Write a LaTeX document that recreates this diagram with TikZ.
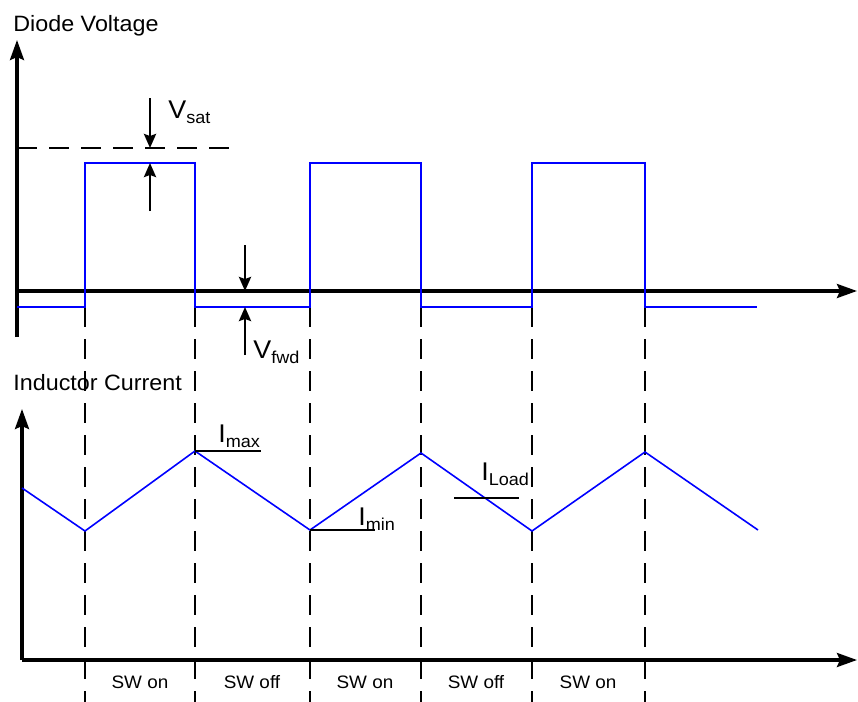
\documentclass[tikz,border=0pt]{standalone}
\usepackage{fontspec}
\setmainfont[FakeStretch=1.05]{Liberation Sans}
\usetikzlibrary{arrows.meta}
\newcommand{\symsub}[2]{#1\raisebox{-2.7pt}{\fontsize{8.6}{9}\selectfont #2}}
\tikzset{
  axis/.style={draw,line width=1.6pt,-{Stealth[length=10pt,width=7pt,inset=1.5pt]}},
  pointer/.style={draw,line width=1.3pt,-{Stealth[length=7pt,width=6pt,inset=1pt]}},
  guide/.style={draw,line width=1.3pt,dash pattern=on 10pt off 6pt},
  marker/.style={draw,line width=1.3pt},
  wave/.style={draw,blue,line width=1.2pt},
  ramp/.style={draw,blue,line width=0.8pt},
  title/.style={font=\fontsize{11.1}{13}\selectfont,inner sep=0pt},
  qty/.style={font=\fontsize{12.8}{14}\selectfont,inner sep=0pt},
  phase/.style={font=\fontsize{9}{10}\selectfont,inner sep=0pt}
}
\begin{document}
\begin{tikzpicture}[x=0.5pt,y=-0.5pt]
\useasboundingbox (0,0) rectangle (858,702);
% diode voltage axes
\coordinate (vbot) at (17,337);
\coordinate (vorg) at (17,291);
\coordinate (vtop) at (17,40);
\coordinate (vend) at (857,291);
\path[draw,line width=1.6pt] (vbot) -- (vorg);
\path[axis] (vorg) -- (vtop);
\path[axis] (vorg) -- (vend);
\node[title,anchor=base west] (vtitle) at (13,31) {Diode Voltage};
% inductor current axes
\coordinate (iorg) at (22,660);
\coordinate (itop) at (22,409);
\coordinate (iend) at (857,660);
\path[axis] (iorg) -- (itop);
\path[axis] (iorg) -- (iend);
\node[title,anchor=base west] (ititle) at (13,390) {Inductor Current};
% switching instants
\coordinate (t1) at (85,307);
\coordinate (t2) at (195,307);
\coordinate (t3) at (310,307);
\coordinate (t4) at (421,307);
\coordinate (t5) at (532,307);
\coordinate (t6) at (645,307);
\coordinate (b1) at (85,702);
\coordinate (b2) at (195,702);
\coordinate (b3) at (310,702);
\coordinate (b4) at (421,702);
\coordinate (b5) at (532,702);
\coordinate (b6) at (645,702);
\path[guide] (t1) -- (b1);
\path[guide] (t2) -- (b2);
\path[guide] (t3) -- (b3);
\path[guide] (t4) -- (b4);
\path[guide] (t5) -- (b5);
\path[guide] (t6) -- (b6);
% diode voltage waveform
\path[wave] (17,307) -- (t1) -- (85,163) -- (195,163) -- (t2) -- (t3)
  -- (310,163) -- (421,163) -- (t4) -- (t5) -- (532,163) -- (645,163)
  -- (t6) -- (757,307);
% vsat
\coordinate (sat) at (17,148);
\coordinate (satend) at (232,148);
\path[guide] (sat) -- (satend);
\coordinate (sata) at (150,98);
\coordinate (satb) at (150,148);
\coordinate (satc) at (150,211);
\coordinate (satd) at (150,163);
\path[pointer] (sata) -- (satb);
\path[pointer] (satc) -- (satd);
\node[qty,anchor=base west] (vsat) at (168,118) {\symsub{V}{sat}};
% vfwd
\coordinate (fwda) at (245,245);
\coordinate (fwdb) at (245,291);
\coordinate (fwdc) at (245,355);
\coordinate (fwdd) at (245,307);
\path[pointer] (fwda) -- (fwdb);
\path[pointer] (fwdc) -- (fwdd);
\node[qty,anchor=base west] (vfwd) at (253,358) {\symsub{V}{fwd}};
% inductor current waveform
\coordinate (pk1) at (195,451);
\coordinate (vl2) at (310,530);
\path[ramp] (22,488) -- (85,531) -- (pk1) -- (vl2) -- (421,453)
  -- (532,531) -- (645,452) -- (758,530);
\coordinate (pk1r) at (261,451);
\coordinate (vl2r) at (375,530);
\coordinate (lda) at (454,498);
\coordinate (ldb) at (519,498);
\path[marker] (pk1) -- (pk1r);
\path[marker] (vl2) -- (vl2r);
\path[marker] (lda) -- (ldb);
\node[qty,anchor=base west] (imax) at (218,442) {\symsub{I}{max}};
\node[qty,anchor=base west] (imin) at (358,525) {\symsub{I}{min}};
\node[qty,anchor=base west] (iload) at (481,480) {\symsub{I}{Load}};
% switch states
\node[phase,anchor=base] (s1) at (140,688) {SW on};
\node[phase,anchor=base] (s2) at (252,688) {SW off};
\node[phase,anchor=base] (s3) at (365,688) {SW on};
\node[phase,anchor=base] (s4) at (476,688) {SW off};
\node[phase,anchor=base] (s5) at (588,688) {SW on};
\end{tikzpicture}
\end{document}
